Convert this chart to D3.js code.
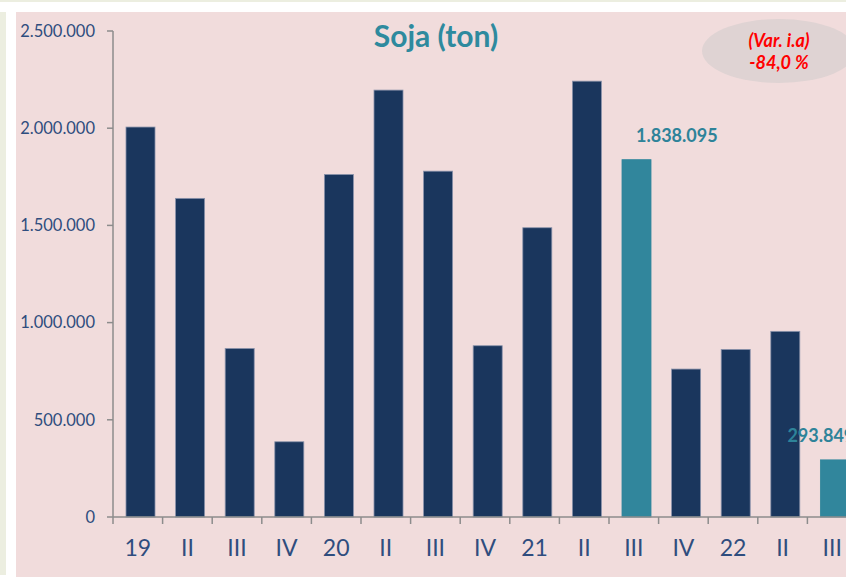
<!DOCTYPE html>
<html><head><meta charset="utf-8">
<script src="https://cdn.jsdelivr.net/npm/d3@7"></script>
<style>html,body{margin:0;padding:0;background:#fff;overflow:hidden}</style>
</head><body>
<script>
const categories = ["19","II","III","IV","20","II","III","IV","21","II","III","IV","22","II","III"];
const values = [2006000,1639000,867000,387000,1762000,2196000,1779000,881000,1488000,2242000,1838095,761000,862000,955000,293849];
const highlight = [false,false,false,false,false,false,false,false,false,false,true,false,false,false,true];
const yTicks = [0,500000,1000000,1500000,2000000,2500000];
const labelIdx = [10,14];
const labelDx = [14,-33];
const title = "Soja (ton)";
const noteLines = ["(Var. i.a)","-84,0 %"];

const W=846,H=577;
const svg=d3.select("body").append("svg").attr("width",W).attr("height",H);
// page backgrounds
svg.append("rect").attr("x",0).attr("y",0).attr("width",W).attr("height",H).attr("fill","#ffffff");
svg.append("rect").attr("x",0).attr("y",0).attr("width",W).attr("height",2).attr("fill","#eceee0");
svg.append("rect").attr("x",0).attr("y",12).attr("width",6).attr("height",563).attr("fill","#eceee0");
svg.append("rect").attr("x",16).attr("y",12).attr("width",W-16).attr("height",H-12).attr("fill","#f1dcdc");

const fmt=d3.formatLocale({decimal:",",thousands:".",grouping:[3],currency:["",""]}).format(",d");
const font="Lato, 'Open Sans', sans-serif";
const textCol="#2f4d7e";

const y=d3.scaleLinear().domain([0,2500000]).range([517,31]);
const step=49.6;
const x=d3.scaleBand().domain(d3.range(categories.length)).range([115.7,115.7+step*categories.length]).paddingInner(0.415).paddingOuter(0.2075);
const bw=x.bandwidth();
const boundary=i=>x(i)-13;

// bars
svg.append("g").selectAll("rect").data(values).join("rect")
  .attr("x",(d,i)=>x(i)).attr("y",d=>y(d)).attr("width",bw).attr("height",d=>y(0)-y(d))
  .attr("fill",(d,i)=>highlight[i]?"#31869c":"#1a365d")
  .attr("stroke",(d,i)=>highlight[i]?"#31869c":"#8a93ab").attr("stroke-width",0.8);

// axes
const axCol="#8c8c8c";
svg.append("line").attr("x1",113).attr("x2",113).attr("y1",y(2500000)).attr("y2",y(0)).attr("stroke",axCol).attr("stroke-width",1.5);
svg.append("line").attr("x1",113).attr("x2",W).attr("y1",y(0)).attr("y2",y(0)).attr("stroke",axCol).attr("stroke-width",1.5);
svg.append("g").selectAll("line").data(yTicks).join("line")
  .attr("x1",107).attr("x2",113).attr("y1",d=>y(d)).attr("y2",d=>y(d)).attr("stroke",axCol).attr("stroke-width",1.5);
svg.append("g").selectAll("text").data(yTicks).join("text")
  .attr("x",95).attr("y",d=>y(d)).attr("dy","0.35em").attr("text-anchor","end")
  .attr("font-family",font).attr("font-size",16.5).attr("fill",textCol).text(d=>fmt(d));
svg.append("g").selectAll("line").data(d3.range(categories.length+1)).join("line")
  .attr("x1",i=>113+i*step).attr("x2",i=>113+i*step).attr("y1",y(0)).attr("y2",y(0)+7).attr("stroke",axCol).attr("stroke-width",1.5);
svg.append("g").selectAll("text").data(categories).join("text")
  .attr("x",(d,i)=>boundary(i)+step/2).attr("y",556).attr("text-anchor","middle")
  .attr("font-family",font).attr("font-size",23).attr("fill",textCol).text(d=>d);

// value labels
svg.append("g").selectAll("text").data(labelIdx).join("text")
  .attr("x",(d,k)=>x(d)+labelDx[k]).attr("y",d=>y(values[d])-18)
  .attr("font-family",font).attr("font-size",18).attr("font-weight","bold").attr("fill","#2e8399")
  .text(d=>fmt(values[d]));

// title
svg.append("text").attr("x",436).attr("y",47).attr("text-anchor","middle")
  .attr("font-family",font).attr("font-size",30).attr("font-weight","bold").attr("fill","#2e8a9e").text(title);

// note ellipse
svg.append("ellipse").attr("cx",779).attr("cy",51).attr("rx",77).attr("ry",32).attr("fill","#dfd3d3");
svg.append("g").selectAll("text").data(noteLines).join("text")
  .attr("x",779).attr("y",(d,i)=>47+i*21.5).attr("text-anchor","middle")
  .attr("font-family",font).attr("font-size",18).attr("font-weight","bold").attr("font-style","italic")
  .attr("fill","#ff0000").text(d=>d);
</script>
</body></html>
